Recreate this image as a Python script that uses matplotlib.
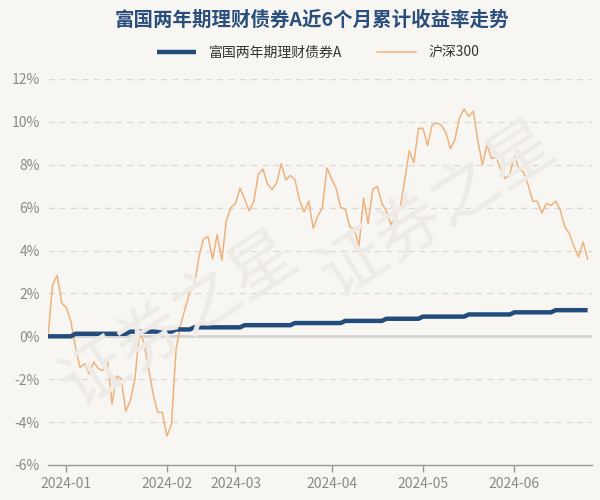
import matplotlib
matplotlib.use("Agg")
import matplotlib.pyplot as plt
import pandas as pd
import numpy as np

plt.rcParams['font.family'] = ['Noto Sans CJK SC', 'DejaVu Sans']

title = "富国两年期理财债券A近6个月累计收益率走势"
fund_name = "富国两年期理财债券A"
index_name = "沪深300"

# trading calendar (category axis)
start_date = "2023-12-26"
end_date = "2024-06-26"
holidays = ["2024-01-01", "2024-02-09", "2024-02-12", "2024-02-13", "2024-02-14",
            "2024-02-15", "2024-02-16", "2024-04-04", "2024-04-05", "2024-05-01",
            "2024-05-02", "2024-05-03", "2024-06-10"]

# cumulative return (%) of the fund
fund = [0.00, 0.00, 0.00, 0.00, 0.00, 0.00,
        0.12, 0.12, 0.12, 0.12, 0.12, 0.12, 0.12, 0.12, 0.12, 0.12, 0.12, 0.12,
        0.22, 0.22, 0.22, 0.22, 0.22, 0.22, 0.22, 0.22, 0.22, 0.22,
        0.32, 0.32, 0.32, 0.32,
        0.42, 0.42, 0.42, 0.42, 0.42, 0.42, 0.42, 0.42, 0.42, 0.42, 0.42,
        0.52, 0.52, 0.52, 0.52, 0.52, 0.52, 0.52, 0.52, 0.52, 0.52, 0.52,
        0.62, 0.62, 0.62, 0.62, 0.62, 0.62, 0.62, 0.62, 0.62, 0.62, 0.62,
        0.72, 0.72, 0.72, 0.72, 0.72, 0.72, 0.72, 0.72, 0.72,
        0.82, 0.82, 0.82, 0.82, 0.82, 0.82, 0.82, 0.82,
        0.92, 0.92, 0.92, 0.92, 0.92, 0.92, 0.92, 0.92, 0.92, 0.92,
        1.02, 1.02, 1.02, 1.02, 1.02, 1.02, 1.02, 1.02, 1.02, 1.02,
        1.12, 1.12, 1.12, 1.12, 1.12, 1.12, 1.12, 1.12, 1.12,
        1.22, 1.22, 1.22, 1.22, 1.22, 1.22, 1.22, 1.22]

# cumulative return (%) of CSI 300
hs300 = [0.00, 2.40, 2.85, 1.55, 1.35, 0.70, -0.50, -1.45, -1.27, -1.75,
         -1.20, -1.50, -1.60, -1.05, -3.16, -1.85, -1.97, -3.50, -3.00, -2.00,
         0.20, -0.30, -1.50, -2.70, -3.55, -3.55, -4.65, -4.10, -0.60, 0.55,
         1.30, 2.05, 2.35, 3.70, 4.55, 4.65, 3.60, 4.75, 3.55, 5.40,
         6.00, 6.20, 6.90, 6.40, 5.85, 6.30, 7.55, 7.80, 7.10, 6.85,
         7.15, 8.05, 7.30, 7.50, 7.30, 6.35, 5.80, 6.30, 5.05, 5.60,
         6.00, 7.85, 7.35, 6.90, 6.00, 5.95, 5.10, 5.00, 4.20, 6.45,
         5.25, 6.85, 7.00, 6.20, 5.85, 5.20, 5.65, 5.95, 7.30, 8.65,
         8.10, 9.70, 9.70, 8.90, 9.85, 9.95, 9.85, 9.50, 8.75, 9.20,
         10.20, 10.60, 10.25, 10.50, 9.10, 8.00, 8.95, 8.30, 8.35, 7.75,
         7.35, 7.60, 8.40, 7.80, 7.65, 7.05, 6.30, 6.30, 5.75, 6.20,
         6.10, 6.30, 5.90, 5.10, 4.80, 4.20, 3.70, 4.40, 3.60]

y_ticks = [-6, -4, -2, 0, 2, 4, 6, 8, 10, 12]

days = pd.bdate_range(start_date, end_date)
days = days[~days.isin(pd.to_datetime(holidays))]
x = np.arange(len(days))

months = pd.Series(days.strftime("%Y-%m"))
first_idx = months.drop_duplicates().index[1:]
tick_pos = list(first_idx)
tick_lab = list(months[first_idx])

bg = "#f8f6f3"
fig = plt.figure(figsize=(6, 5), dpi=100, facecolor=bg)
ax = fig.add_axes([0.08, 0.07, 0.907, 0.772], facecolor=bg)

# faint watermark
for (wx, wy) in [(0.30, 0.36), (0.73, 0.58)]:
    fig.text(wx, wy, "证券之星", fontsize=48, color="#eeebe7", rotation=33,
             ha="center", va="center", zorder=0)

for t in y_ticks:
    if t == 0:
        ax.axhline(t, color="#d4d4d4", lw=2.0, zorder=1)
    elif t == -6:
        pass
    else:
        ax.axhline(t, color="#d8d8d8", lw=0.9, ls=(0, (5, 4)), zorder=1)

ax.plot(x, hs300, color="#efb27c", lw=1.1, zorder=3, label=index_name)
ax.plot(x, fund, color="#214c7c", lw=3.2, zorder=4, label=fund_name,
        solid_capstyle="butt")

ax.set_xlim(0, len(days))
ax.set_ylim(-6, 12)
ax.set_yticks(y_ticks)
ax.set_yticklabels([f"{t}%" for t in y_ticks])
ax.set_xticks(tick_pos)
ax.set_xticklabels(tick_lab)

for s in ["left", "right", "top"]:
    ax.spines[s].set_visible(False)
ax.spines["bottom"].set_color("#9a9a9a")
ax.spines["bottom"].set_linewidth(1.0)
ax.tick_params(axis="y", length=0, pad=6, labelsize=10, labelcolor="#8a8a8a")
ax.tick_params(axis="x", length=5, width=1, color="#9a9a9a", pad=4,
               labelsize=10, labelcolor="#8a8a8a")

fig.text(0.52, 0.960, title, ha="center", va="center", fontsize=14,
         fontweight="bold", color="#2a4f7c")

handles, labels = ax.get_legend_handles_labels()
leg = fig.legend(handles[::-1], labels[::-1], loc="center", bbox_to_anchor=(0.53, 0.895),
                 ncol=2, frameon=False, fontsize=10, handlelength=2.8,
                 columnspacing=2.5, handletextpad=0.9)
for txt in leg.get_texts():
    txt.set_color("#333333")

fig.savefig("out.png", dpi=100, facecolor=bg)
